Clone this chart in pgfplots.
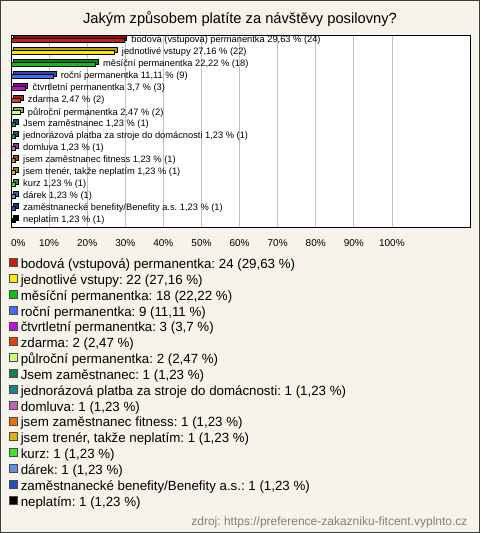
\documentclass[border=0pt]{standalone}
\usepackage{fontspec}
\setmainfont{Liberation Sans}
\usepackage{pgfplots}
\pgfplotsset{compat=1.18}
\frenchspacing
\definecolor{bg}{RGB}{245,243,234}
\definecolor{frame}{RGB}{60,60,60}
\definecolor{gridc}{RGB}{192,192,192}
\definecolor{srcc}{RGB}{128,128,128}
\definecolor{c1}{RGB}{192,32,16}
\definecolor{c2}{RGB}{255,230,0}
\definecolor{c3}{RGB}{20,190,20}
\definecolor{c4}{RGB}{64,112,240}
\definecolor{c5}{RGB}{190,20,210}
\definecolor{c6}{RGB}{224,64,16}
\definecolor{c7}{RGB}{200,255,128}
\definecolor{c8}{RGB}{16,128,80}
\definecolor{c9}{RGB}{32,128,144}
\definecolor{c10}{RGB}{192,96,192}
\definecolor{c11}{RGB}{224,112,16}
\definecolor{c12}{RGB}{224,176,16}
\definecolor{c13}{RGB}{64,224,48}
\definecolor{c14}{RGB}{96,144,224}
\definecolor{c15}{RGB}{32,80,192}
\definecolor{c16}{RGB}{0,0,0}
\newcommand{\hb}[5]{%
  \addplot[fill=#3!70!black, draw=black, xshift=2.5pt, yshift=2.5pt, forget plot] coordinates {(#1,#2) [{}]};%
  \addplot[fill=#3, draw=black] coordinates {(#1,#2) [{#4}]};%
  \addlegendentry{#5}%
}
\begin{document}
\frenchspacing
\begin{tikzpicture}
\useasboundingbox (0pt,0pt) rectangle (480pt,533pt);
\fill[bg, draw=frame, line width=1pt] (0.5pt,0.5pt) rectangle (479.5pt,532.5pt);
\node[font=\fontsize{14.7}{17}\selectfont] at (240pt,514pt) {Jakým způsobem platíte za návštěvy posilovny?};
\node[anchor=east, text=srcc, font=\fontsize{12}{14}\selectfont] at (471pt,11pt) {zdroj: https://preference-zakazniku-fitcent.vyplnto.cz};
\begin{axis}[
  at={(11pt,306pt)}, anchor=south west,
  scale only axis, width=459pt, height=192pt,
  xmin=0, xmax=120.5, ymin=-0.45, ymax=15.55, y dir=reverse,
  xbar, bar width=4.5pt, bar shift=0pt,
  xtick={0,10,...,100},
  xticklabels={\makebox[0pt][l]{0\%},10\%,20\%,30\%,40\%,50\%,60\%,70\%,80\%,90\%,100\%},
  ytick=\empty,
  xmajorgrids,
  major grid style={draw=gridc, line width=0.8pt},
  major tick length=0pt,
  tick label style={font=\fontsize{10}{12}\selectfont},
  xticklabel style={yshift=-9pt},
  axis line style={line width=0.8pt, black},
  axis background/.style={fill=white},
  nodes near coords, point meta=explicit symbolic,
  every node near coord/.append style={anchor=west, xshift=4pt, text=black, font=\fontsize{9.3}{10}\selectfont},
  legend style={at={(axis description cs:-0.0044,-0.161)}, anchor=north west,
    draw=none, fill=none, inner sep=0pt, row sep=1pt,
    font=\fontsize{13.3}{15}\selectfont,
    nodes={inner sep=1pt, text height=9.5pt, text depth=3.33pt},
    /tikz/every odd column/.append style={column sep=2pt}},
  legend cell align=left,
  legend image code/.code={\draw[#1, draw=black!70, line width=0.6pt] (0pt,-1pt) rectangle (8pt,7pt);},
]
\hb{29.63}{0}{c1}{bodová (vstupová) permanentka 29,63 \% (24)}{bodová (vstupová) permanentka: 24 (29,63 \%)}
\hb{27.16}{1}{c2}{jednotlivé vstupy 27,16 \% (22)}{jednotlivé vstupy: 22 (27,16 \%)}
\hb{22.22}{2}{c3}{měsíční permanentka 22,22 \% (18)}{měsíční permanentka: 18 (22,22 \%)}
\hb{11.11}{3}{c4}{roční permanentka 11,11 \% (9)}{roční permanentka: 9 (11,11 \%)}
\hb{3.7}{4}{c5}{čtvrtletní permanentka 3,7 \% (3)}{čtvrtletní permanentka: 3 (3,7 \%)}
\hb{2.47}{5}{c6}{zdarma 2,47 \% (2)}{zdarma: 2 (2,47 \%)}
\hb{2.47}{6}{c7}{půlroční permanentka 2,47 \% (2)}{půlroční permanentka: 2 (2,47 \%)}
\hb{1.23}{7}{c8}{Jsem zaměstnanec 1,23 \% (1)}{Jsem zaměstnanec: 1 (1,23 \%)}
\hb{1.23}{8}{c9}{jednorázová platba za stroje do domácnosti 1,23 \% (1)}{jednorázová platba za stroje do domácnosti: 1 (1,23 \%)}
\hb{1.23}{9}{c10}{domluva 1,23 \% (1)}{domluva: 1 (1,23 \%)}
\hb{1.23}{10}{c11}{jsem zaměstnanec fitness 1,23 \% (1)}{jsem zaměstnanec fitness: 1 (1,23 \%)}
\hb{1.23}{11}{c12}{jsem trenér, takže neplatím 1,23 \% (1)}{jsem trenér, takže neplatím: 1 (1,23 \%)}
\hb{1.23}{12}{c13}{kurz 1,23 \% (1)}{kurz: 1 (1,23 \%)}
\hb{1.23}{13}{c14}{dárek 1,23 \% (1)}{dárek: 1 (1,23 \%)}
\hb{1.23}{14}{c15}{zaměstnanecké benefity/Benefity a.s. 1,23 \% (1)}{zaměstnanecké benefity/Benefity a.s.: 1 (1,23 \%)}
\hb{1.23}{15}{c16}{neplatím 1,23 \% (1)}{neplatím: 1 (1,23 \%)}
\end{axis}
\end{tikzpicture}
\end{document}
